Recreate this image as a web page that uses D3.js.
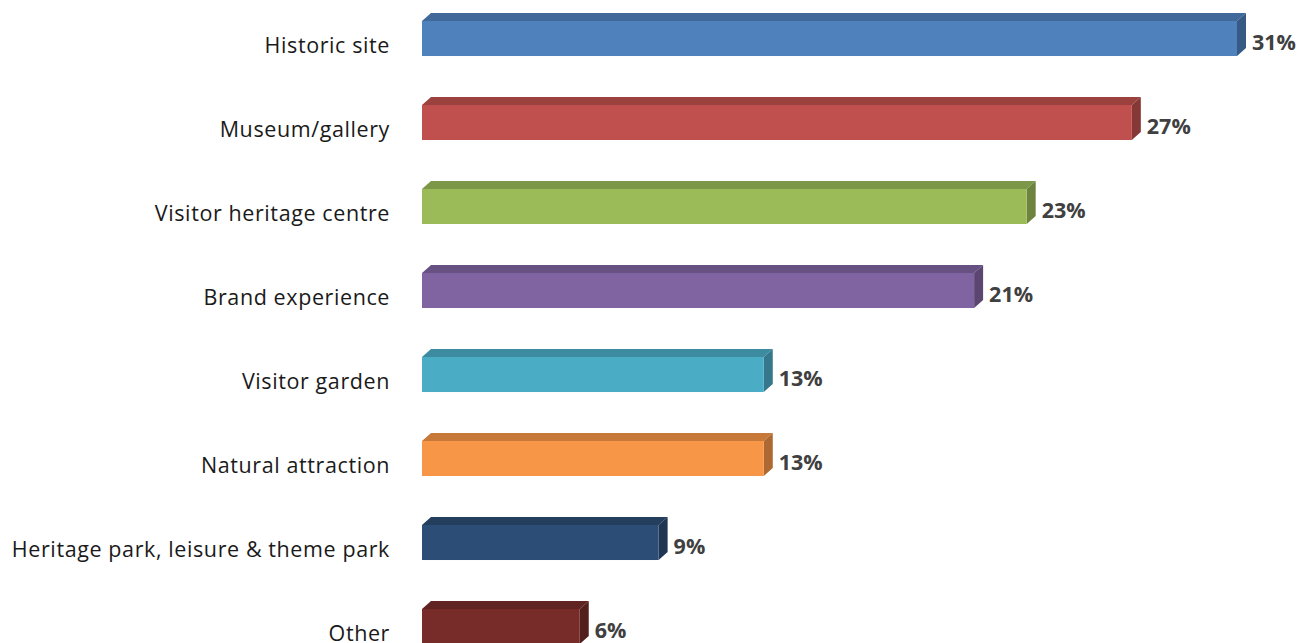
<!DOCTYPE html>
<html>
<head>
<meta charset="utf-8">
<script src="https://cdn.jsdelivr.net/npm/d3@7/dist/d3.min.js"></script>
<style>
  html, body { margin: 0; padding: 0; background: #ffffff; }
  svg { display: block; }
</style>
</head>
<body>
<div id="chart"></div>
<script>
// Share of visitors by attraction type (%)
const categories = [
  "Historic site",
  "Museum/gallery",
  "Visitor heritage centre",
  "Brand experience",
  "Visitor garden",
  "Natural attraction",
  "Heritage park, leisure & theme park",
  "Other"
];
const values = [31, 27, 23, 21, 13, 13, 9, 6];
const valueLabels = ["31%", "27%", "23%", "21%", "13%", "13%", "9%", "6%"];
const colors = ["#4F81BD", "#C0504D", "#9BBB59", "#8064A2", "#4BACC6", "#F79646", "#2C4D75", "#772C2A"];

const W = 1301, H = 643;
const depthX = 9, depthY = 8;   // oblique offset of the 3-D extrusion

const svg = d3.select("#chart").append("svg")
  .attr("width", W).attr("height", H);

const x = d3.scaleLinear().domain([0, 31]).range([422, 1237]);
const y = d3.scaleBand()
  .domain(categories)
  .range([-3.5, 668.5])
  .paddingInner(0.583)
  .paddingOuter(0.2915);

const rows = categories.map((c, i) => ({ cat: c, value: values[i], label: valueLabels[i], color: colors[i] }));

const g = svg.append("g");
const bar = g.selectAll("g.bar").data(rows).join("g").attr("class", "bar");

// top face
bar.append("path")
  .attr("fill", d => d3.color(d.color).darker(0.6))
  .attr("d", d => {
    const x0 = x(0), x1 = x(d.value), t = y(d.cat);
    return `M${x0},${t} L${x0 + depthX},${t - depthY} L${x1 + depthX},${t - depthY} L${x1},${t} Z`;
  });

// side face
bar.append("path")
  .attr("fill", d => d3.color(d.color).darker(1.0))
  .attr("d", d => {
    const x1 = x(d.value), t = y(d.cat), b = t + y.bandwidth();
    return `M${x1},${t} L${x1 + depthX},${t - depthY} L${x1 + depthX},${b - depthY} L${x1},${b} Z`;
  });

// front face
bar.append("rect")
  .attr("x", x(0))
  .attr("y", d => y(d.cat))
  .attr("width", d => x(d.value) - x(0))
  .attr("height", y.bandwidth())
  .attr("fill", d => d.color);

// value labels
bar.append("text")
  .attr("x", d => x(d.value) + depthX + 6)
  .attr("y", d => y(d.cat) + y.bandwidth() - 6.5)
  .attr("font-family", "'Open Sans', 'Noto Sans', sans-serif")
  .attr("font-size", 21.5)
  .attr("font-weight", "bold")
  .attr("fill", "#404040")
  .text(d => d.label);

// category labels
g.selectAll("text.cat").data(rows).join("text")
  .attr("class", "cat")
  .attr("x", 390)
  .attr("y", d => y(d.cat) + y.bandwidth() - 3)
  .attr("text-anchor", "end")
  .attr("font-family", "'Open Sans', 'Noto Sans', sans-serif")
  .attr("font-size", 21.5)
  .attr("letter-spacing", 0.6)
  .attr("fill", "#1a1a1a")
  .text(d => d.cat);
</script>
</body>
</html>
